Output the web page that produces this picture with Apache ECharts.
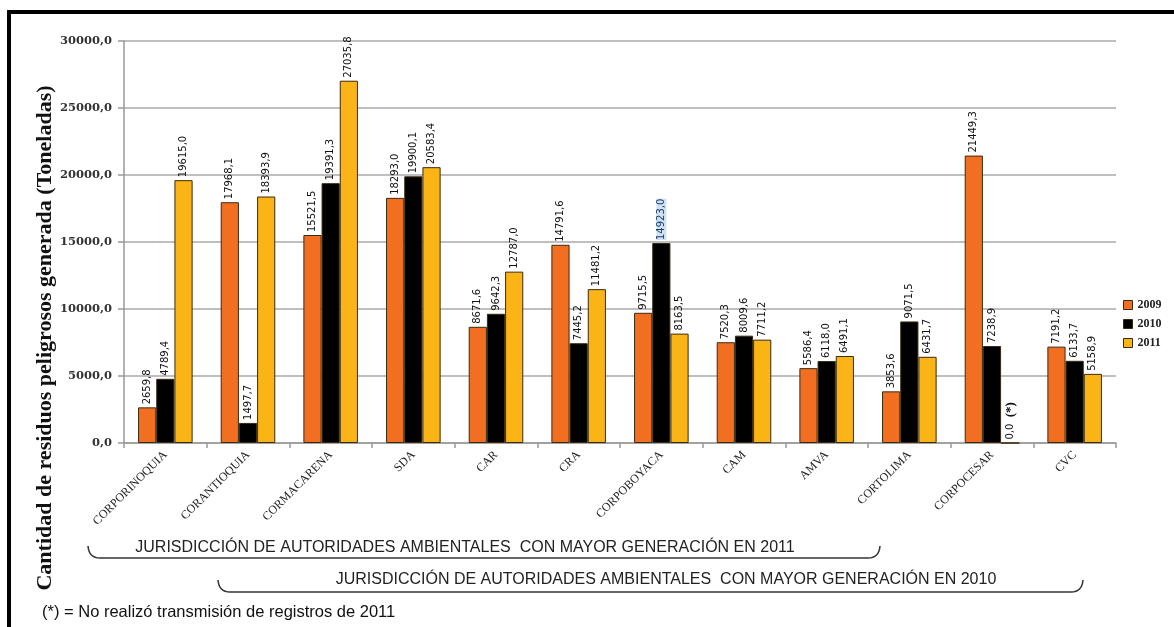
<!DOCTYPE html>
<html>
<head>
<meta charset="utf-8">
<script src="https://cdn.jsdelivr.net/npm/echarts@6/dist/echarts.min.js"></script>
<style>
html,body{margin:0;padding:0;background:#fff;}
#c{width:1174px;height:627px;}
</style>
</head>
<body>
<div id="c"></div>
<script>
var categories = ['CORPORINOQUIA','CORANTIOQUIA','CORMACARENA','SDA','CAR','CRA','CORPOBOYACA','CAM','AMVA','CORTOLIMA','CORPOCESAR','CVC'];
var v2009 = [2659.8, 17968.1, 15521.5, 18293.0, 8671.6, 14791.6, 9715.5, 7520.3, 5586.4, 3853.6, 21449.3, 7191.2];
var v2010 = [4789.4, 1497.7, 19391.3, 19900.1, 9642.3, 7445.2, 14923.0, 8009.6, 6118.0, 9071.5, 7238.9, 6133.7];
var v2011 = [19615.0, 18393.9, 27035.8, 20583.4, 12787.0, 11481.2, 8163.5, 7711.2, 6491.1, 6431.7, 0.0, 5158.9];
var seriesNames = ['2009','2010','2011'];
var yTicks = {min: 0, max: 30000, interval: 5000};

function fmt(v){ return Number(v).toFixed(1).replace('.', ','); }

var serif = 'Liberation Serif';
var colors = ['#F26F21', '#000000', '#FBB416'];

function labelCfg(){
  return {
    show: true, position: 'top', rotate: 90, align: 'left', verticalAlign: 'middle',
    distance: 3, fontFamily: 'DejaVu Sans', fontSize: 10, color: '#111',
    formatter: function(p){ return fmt(p.value); }
  };
}

function makeData(arr, si){
  return arr.map(function(v, i){
    var d = {value: v};
    if (si === 1 && categories[i] === 'CORPOBOYACA') {
      d.label = {backgroundColor: '#cfe2f3', color: '#1a3c6a'};
    }
    if (si === 2 && v === 0) {
      d.label = {formatter: '0,0  {b|(*)}', rich: {b: {fontFamily: serif, fontWeight: 'bold', fontSize: 13, color: '#111'}}};
    }
    return d;
  });
}

var series = [v2009, v2010, v2011].map(function(arr, si){
  return {
    name: seriesNames[si], type: 'bar', data: makeData(arr, si),
    barGap: '0%', barCategoryGap: '34%',
    itemStyle: {color: colors[si], borderColor: '#3a2a10', borderWidth: 1},
    label: labelCfg()
  };
});

function bracket(x1, x2, yTop, yBot){
  var ls = {stroke: '#333', lineWidth: 1.5, fill: 'none'};
  return [
    {type: 'bezierCurve', shape: {x1: x1, y1: yTop, cpx1: x1 + 1, cpy1: yBot, x2: x1 + 12, y2: yBot}, style: ls, silent: true},
    {type: 'line', shape: {x1: x1 + 12, y1: yBot, x2: x2 - 12, y2: yBot}, style: ls, silent: true},
    {type: 'bezierCurve', shape: {x1: x2 - 12, y1: yBot, cpx1: x2 - 1, cpy1: yBot, x2: x2, y2: yTop}, style: ls, silent: true}
  ];
}

var graphics = [
  {type: 'rect', shape: {x: 9, y: 12, width: 1300, height: 800}, style: {fill: 'none', stroke: '#000', lineWidth: 4}, silent: true},
  {type: 'text', x: 45, y: 338, rotation: Math.PI / 2, style: {text: 'Cantidad de residuos peligrosos generada (Toneladas)', fontFamily: serif, fontWeight: 'bold', fontSize: 22, fill: '#111', align: 'center', verticalAlign: 'middle'}},
  {type: 'text', x: 465, y: 548, style: {text: 'JURISDICCIÓN DE AUTORIDADES AMBIENTALES  CON MAYOR GENERACIÓN EN 2011', fontFamily: 'Liberation Sans', fontSize: 16, fill: '#222', align: 'center', verticalAlign: 'middle'}},
  {type: 'text', x: 666, y: 580, style: {text: 'JURISDICCIÓN DE AUTORIDADES AMBIENTALES  CON MAYOR GENERACIÓN EN 2010', fontFamily: 'Liberation Sans', fontSize: 16, fill: '#222', align: 'center', verticalAlign: 'middle'}},
  {type: 'text', x: 42, y: 612, style: {text: '(*) = No realizó transmisión de registros de 2011', fontFamily: 'Liberation Sans', fontSize: 16.5, fill: '#111', align: 'left', verticalAlign: 'middle'}}
].concat(bracket(88, 880, 546, 558), bracket(218, 1083, 580, 592));

var chart = echarts.init(document.getElementById('c'));
chart.setOption({
  animation: false,
  backgroundColor: '#fff',
  grid: {left: 124, right: 58, top: 41, bottom: 184, containLabel: false},
  legend: {
    orient: 'vertical', left: 1118, top: 294, itemWidth: 9, itemHeight: 9, itemGap: 7,
    icon: 'rect',
    textStyle: {fontFamily: serif, fontWeight: 'bold', fontSize: 12, color: '#222'},
    itemStyle: {borderColor: '#3a2a10', borderWidth: 1},
    data: seriesNames
  },
  xAxis: {
    type: 'category', data: categories,
    axisLine: {lineStyle: {color: '#999', width: 1.5}},
    axisTick: {show: true, length: 5, lineStyle: {color: '#999', width: 1.5}},
    axisLabel: {rotate: 45, fontFamily: serif, fontSize: 12, color: '#222', margin: 10, interval: 0}
  },
  yAxis: {
    type: 'value', min: yTicks.min, max: yTicks.max, interval: yTicks.interval,
    axisLine: {show: true, lineStyle: {color: '#999', width: 1.5}},
    axisTick: {show: true, length: 6, lineStyle: {color: '#999', width: 1.5}},
    axisLabel: {fontFamily: 'DejaVu Serif', fontWeight: 'bold', fontSize: 11.5, color: '#333', margin: 12,
      formatter: function(v){ return fmt(v); }},
    splitLine: {lineStyle: {color: '#aaa', width: 1.5}}
  },
  series: series,
  graphic: graphics
});
</script>
</body>
</html>
